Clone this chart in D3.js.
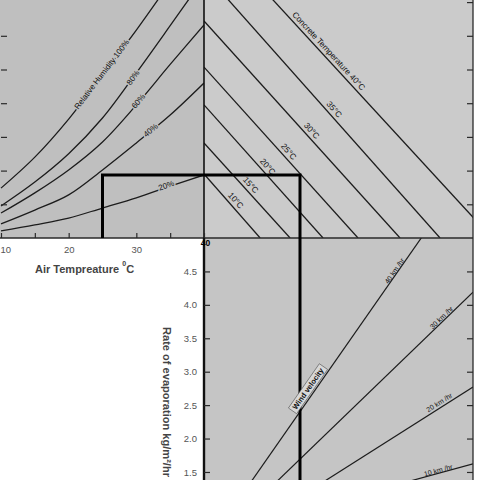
<!DOCTYPE html>
<html><head><meta charset="utf-8">
<script src="https://cdn.jsdelivr.net/npm/d3@7"></script>
<style>body{margin:0;background:#fff}svg{display:block}</style>
</head><body><svg id="c" width="480" height="480"></svg>
<script>
// ---------------- data ----------------
const airTemps = [10, 15, 20, 25, 30, 35, 40];
const humidityLevels = [100, 80, 60, 40, 20];
// vapour pressure (chart units) of each relative-humidity curve at airTemps
const vp100 = [1.48, 2.40, 3.53, 4.84, 6.17, 7.59];
const vp80  = [0.95, 1.66, 2.50, 3.56, 4.90, 6.30, 7.72];
const vp60  = [0.74, 1.34, 2.02, 2.85, 3.95, 5.15, 6.32];
const vp40  = [0.42, 0.83, 1.28, 2.02, 2.82, 3.65, 4.60];
const vp20  = [0.21, 0.39, 0.59, 0.89, 1.19, 1.54, 1.87];

const concreteTemps = [10, 15, 20, 25, 30, 35, 40];
const concreteVpAtStart = [1.90, 2.82, 3.95, 5.07, 6.44, 7.88, 9.29]; // on the 40°C air line
const concreteReachAtZero = [1.67, 2.56, 3.54, 4.58, 5.83, 7.02, 8.57]; // where they meet the base

const windSpeeds = [10, 20, 30, 40];
const windRateAtRight = [1.62, 2.77, 4.19, 6.11];
const windReachAtRate1 = [3.46, 2.45, 1.43, 0.91];

const airTempTicks = [10, 15, 20, 25, 30, 35, 40];
const airTempLabels = [10, 20, 30, 40];
const vpTicksLeft = [1, 2, 3, 4, 5, 6];
const vpTicksRight = [1, 2, 3, 4, 5, 6, 7];
const evapTicks = [1.5, 2.0, 2.5, 3.0, 3.5, 4.0, 4.5];

const exampleAirTemp = 25;
const exampleVp = 1.87;
const exampleReach = 2.855;

// ---------------- drawing ----------------
const svg = d3.select("#c");
const xT = d3.scaleLinear().domain([10, 40]).range([1, 204]);
const yV = d3.scaleLinear().domain([0, 7]).range([238, 2.1]);
const xU = d3.scaleLinear().domain([0, 8]).range([204, 473]);
const yE = d3.scaleLinear().domain([5, 1]).range([238, 505.4]);

const defs = svg.append("defs");
function clip(id, x, y, w, h) {
  defs.append("clipPath").attr("id", id).append("rect")
    .attr("x", x).attr("y", y).attr("width", w).attr("height", h);
}
clip("cTL", 0, 0, 204, 238);
clip("cTR", 204, 0, 269, 238);
clip("cBR", 204, 238, 269, 242);

const BG_TL = "#bfbfbf", BG_TR = "#cbcbcb", BG_BR = "#c5c5c5";
svg.append("rect").attr("x", 0).attr("y", 0).attr("width", 204).attr("height", 238).attr("fill", BG_TL);
svg.append("rect").attr("x", 204).attr("y", 0).attr("width", 269).attr("height", 238).attr("fill", BG_TR);
svg.append("rect").attr("x", 204).attr("y", 238).attr("width", 269).attr("height", 242).attr("fill", BG_BR);

const INK = "#1c1c1c";
const FONT = "'Liberation Sans', Arial, sans-serif";

// RH curves
const rhData = [vp100, vp80, vp60, vp40, vp20].map((vals, i) => ({
  rh: humidityLevels[i],
  pts: vals.map((v, j) => [airTemps[j], v])
}));
const rhLine = d3.line().x(d => xT(d[0])).y(d => yV(d[1])).curve(d3.curveCatmullRom.alpha(0.5));
const gTL = svg.append("g").attr("clip-path", "url(#cTL)");
const rhPaths = gTL.selectAll("path.rh").data(rhData).join("path")
  .attr("class", "rh").attr("d", d => rhLine(d.pts))
  .attr("fill", "none").attr("stroke", INK).attr("stroke-width", 1.3);

// concrete temperature lines
const gTR = svg.append("g").attr("clip-path", "url(#cTR)");
const concData = concreteTemps.map((t, i) => ({
  t, p0: [xU(0), yV(concreteVpAtStart[i])], p1: [xU(concreteReachAtZero[i]), yV(0)]
}));
gTR.selectAll("line.ct").data(concData).join("line")
  .attr("x1", d => d.p0[0]).attr("y1", d => d.p0[1])
  .attr("x2", d => d.p1[0]).attr("y2", d => d.p1[1])
  .attr("stroke", INK).attr("stroke-width", 1.3);

// wind lines
const gBR = svg.append("g").attr("clip-path", "url(#cBR)");
const windData = windSpeeds.map((w, i) => ({
  w, p0: [xU(windReachAtRate1[i]), yE(1)], p1: [xU(8), yE(windRateAtRight[i])]
}));
gBR.selectAll("line.wd").data(windData).join("line")
  .attr("x1", d => d.p0[0]).attr("y1", d => d.p0[1])
  .attr("x2", d => d.p1[0]).attr("y2", d => d.p1[1])
  .attr("stroke", INK).attr("stroke-width", 1.2);

// axes / frame
svg.append("line").attr("x1", 0).attr("x2", 473).attr("y1", 238).attr("y2", 238)
  .attr("stroke", "#2a2a2a").attr("stroke-width", 1.5);
svg.append("line").attr("x1", 204).attr("x2", 204).attr("y1", 0).attr("y2", 238)
  .attr("stroke", "#111").attr("stroke-width", 1.6);
svg.append("line").attr("x1", 204).attr("x2", 204).attr("y1", 238).attr("y2", 480)
  .attr("stroke", "#111").attr("stroke-width", 2.4);
svg.append("line").attr("x1", 473).attr("x2", 473).attr("y1", 0).attr("y2", 480)
  .attr("stroke", "#2a2a2a").attr("stroke-width", 1.3);

function styleAxis(g) {
  g.select(".domain").remove();
  g.selectAll(".tick line").attr("stroke", "#2a2a2a").attr("stroke-width", 1.2);
  g.selectAll(".tick text").attr("font-family", FONT).attr("fill", "#555");
}
svg.append("g").attr("transform", "translate(1,0)")
  .call(d3.axisRight(yV).tickValues(vpTicksLeft).tickSize(6).tickFormat(""))
  .call(styleAxis);
svg.append("g").attr("transform", "translate(473,0)")
  .call(d3.axisLeft(yV).tickValues(vpTicksRight).tickSize(6).tickFormat(""))
  .call(styleAxis);
const axT = svg.append("g").attr("transform", "translate(0,238)")
  .call(d3.axisBottom(xT).tickValues(airTempTicks).tickSizeInner(-5).tickSizeOuter(0).tickPadding(8)
    .tickFormat(d => airTempLabels.includes(d) ? d : ""))
  .call(styleAxis);
axT.selectAll(".tick text").attr("font-size", 9.5);
axT.selectAll(".tick text").filter(d => d === 10).attr("text-anchor", "start").attr("x", -1);
axT.selectAll(".tick text").filter(d => d === 40)
  .attr("font-size", 8.5).attr("font-weight", "bold").attr("fill", "#000").attr("y", 2).attr("x", 1);
const axE = svg.append("g").attr("transform", "translate(204,0)")
  .call(d3.axisLeft(yE).tickValues(evapTicks).tickSizeInner(-6).tickSizeOuter(0).tickPadding(7)
    .tickFormat(d3.format(".1f")))
  .call(styleAxis);
axE.selectAll(".tick text").attr("font-size", 9.5);
svg.append("g").attr("transform", "translate(473,0)")
  .call(d3.axisLeft(yE).tickValues(evapTicks).tickSize(6).tickFormat(""))
  .call(styleAxis);

// example path (thick box)
const ex = [[xT(exampleAirTemp), yV(0)], [xT(exampleAirTemp), yV(exampleVp)],
            [xU(exampleReach), yV(exampleVp)], [xU(exampleReach), yE(1)]];
svg.append("path").attr("d", d3.line()(ex)).attr("fill", "none")
  .attr("stroke", "#000").attr("stroke-width", 3);

// ---------------- labels ----------------
function addLabel(g, txt, x, y, ang, off, size, halo) {
  const a = ang * Math.PI / 180;
  const cx = x + Math.sin(a) * off, cy = y - Math.cos(a) * off;
  const t = g.append("text")
    .attr("transform", `translate(${cx},${cy}) rotate(${ang})`)
    .attr("text-anchor", "middle").attr("dy", "0.35em")
    .attr("font-family", FONT).attr("font-size", size).attr("fill", "#111").text(txt);
  if (halo) t.attr("stroke", halo).attr("stroke-width", 3).attr("paint-order", "stroke");
  return t;
}
function pointOnPath(node, xt) {
  const L = node.getTotalLength();
  let lo = 0, hi = L;
  for (let i = 0; i < 40; i++) {
    const m = (lo + hi) / 2;
    if (node.getPointAtLength(m).x < xt) lo = m; else hi = m;
  }
  const p = node.getPointAtLength(lo), q = node.getPointAtLength(Math.min(L, lo + 2));
  const p0 = node.getPointAtLength(Math.max(0, lo - 2));
  return { x: p.x, y: p.y, ang: Math.atan2(q.y - p0.y, q.x - p0.x) * 180 / Math.PI };
}
const rhLabelSpec = [
  { text: "Relative Humidity 100%", t: 25.0, off: 1 },
  { text: "80%", t: 29.5, off: 0 },
  { text: "60%", t: 30.4, off: 1 },
  { text: "40%", t: 32.2, off: 1 },
  { text: "20%", t: 34.5, off: 2 }
];
rhPaths.each(function (d, i) {
  const s = rhLabelSpec[i];
  const p = pointOnPath(this, xT(s.t));
  addLabel(gTL, s.text, p.x, p.y, p.ang, s.off, 8, BG_TL);
});

const concLabelX = [231, 246, 263, 284, 307, 329.5, 324];
concData.forEach((d, i) => {
  const ang = Math.atan2(d.p1[1] - d.p0[1], d.p1[0] - d.p0[0]);
  const x = concLabelX[i];
  const y = d.p0[1] + (x - d.p0[0]) * Math.tan(ang);
  const txt = (i === concData.length - 1 ? "Concrete Temperature " : "") + d.t + "°C";
  addLabel(gTR, txt, x, y, ang * 180 / Math.PI, 6.5, 8.3, null);
});

const windLabelX = [439, 442, 444, 397];
const windLabelOff = [3, 5, 3.5, 3];
windData.forEach((d, i) => {
  const ang = Math.atan2(d.p1[1] - d.p0[1], d.p1[0] - d.p0[0]);
  const x = windLabelX[i];
  const y = d.p0[1] + (x - d.p0[0]) * Math.tan(ang);
  addLabel(gBR, d.w + " km /hr", x, y, ang * 180 / Math.PI, windLabelOff[i], 7, null);
});
// wind velocity tag on the 40 km/hr line
{
  const d = windData[3];
  const ang = Math.atan2(d.p1[1] - d.p0[1], d.p1[0] - d.p0[0]);
  const x = 313.4, y = d.p0[1] + (x - d.p0[0]) * Math.tan(ang);
  const a = ang, off = 6.6;
  const cx = x + Math.sin(a) * off, cy = y - Math.cos(a) * off;
  const g = svg.append("g").attr("transform", `translate(${cx},${cy}) rotate(${ang * 180 / Math.PI})`);
  g.append("rect").attr("x", -27).attr("y", -5).attr("width", 54).attr("height", 10)
    .attr("fill", "#d8d8d8").attr("stroke", "#555").attr("stroke-width", 0.6);
  g.append("text").attr("text-anchor", "middle").attr("dy", "0.35em")
    .attr("font-family", FONT).attr("font-size", 7.5).attr("font-weight", "bold")
    .attr("fill", "#111").text("Wind velocity");
}

// axis titles
const tAir = svg.append("text").attr("x", 35).attr("y", 273)
  .attr("font-family", FONT).attr("font-size", 11).attr("font-weight", "bold").attr("fill", "#444");
tAir.append("tspan").text("Air Tempreature ");
tAir.append("tspan").attr("font-size", 7).attr("dy", -7).text("0");
tAir.append("tspan").attr("font-size", 11).attr("dy", 7).text("C");

svg.append("text").attr("transform", "translate(163,327) rotate(90)")
  .attr("font-family", FONT).attr("font-size", 10.5).attr("font-weight", "bold")
  .attr("textLength", 150).attr("lengthAdjust", "spacingAndGlyphs").attr("fill", "#444")
  .text("Rate of evaporation kg/m²/hr");
</script></body></html>
